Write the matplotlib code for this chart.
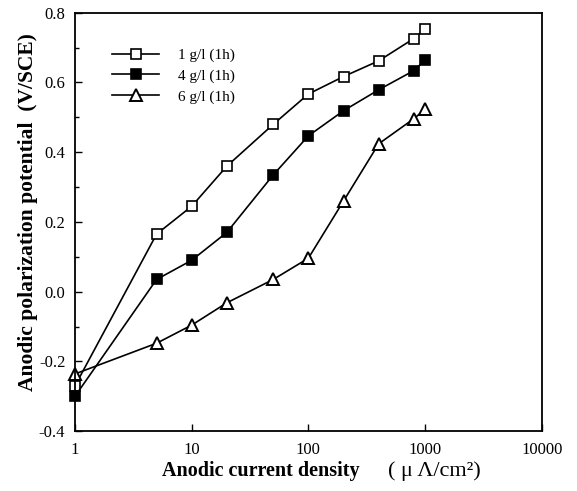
import matplotlib.pyplot as plt
from matplotlib.ticker import FixedLocator, NullLocator, MultipleLocator

plt.rcParams['font.family'] = ['Liberation Serif', 'DejaVu Serif']

# current density (uA/cm2)
current = [1, 5, 10, 20, 50, 100, 200, 400, 800, 1000]

# anodic polarization potential (V/SCE)
pot_1g = [-0.27, 0.165, 0.245, 0.36, 0.48, 0.567, 0.617, 0.662, 0.726, 0.754]
pot_4g = [-0.30, 0.035, 0.09, 0.17, 0.335, 0.447, 0.519, 0.579, 0.634, 0.664]
pot_6g = [-0.236, -0.148, -0.096, -0.032, 0.035, 0.096, 0.26, 0.424, 0.496, 0.523]

labels = ['1 g/l (1h)', '4 g/l (1h)', '6 g/l (1h)']
xticks = [1, 10, 100, 1000, 10000]
xticklabels = ['1', '10', '100', '1000', '10000']

fig = plt.figure(figsize=(5.77, 4.91), dpi=100)
ax = fig.add_axes([0.130, 0.122, 0.809, 0.852])

ax.plot(current, pot_1g, '-s', color='black', mfc='white', mec='black',
        ms=7, mew=1.2, lw=1.2, label=labels[0], clip_on=False)
ax.plot(current, pot_4g, '-s', color='black', mfc='black', mec='black',
        ms=7, mew=1.2, lw=1.2, label=labels[1], clip_on=False)
ax.plot(current, pot_6g, '-^', color='black', mfc='white', mec='black',
        ms=8, mew=1.4, lw=1.2, label=labels[2], clip_on=False)

ax.set_xscale('log')
ax.set_xlim(1, 10000)
ax.set_ylim(-0.4, 0.8)

ax.xaxis.set_major_locator(FixedLocator(xticks))
ax.xaxis.set_minor_locator(NullLocator())
ax.set_xticklabels(xticklabels)
ax.yaxis.set_major_locator(MultipleLocator(0.2))
ax.yaxis.set_minor_locator(MultipleLocator(0.1))
ax.yaxis.set_major_formatter(plt.FuncFormatter(lambda v, p: '%.1f' % v))

ax.tick_params(which='both', direction='in', top=False, right=False,
               labelsize=12, width=1.0)
ax.tick_params(which='major', length=5)
ax.tick_params(which='minor', length=3)
ax.tick_params(axis='x', pad=8)
ax.tick_params(axis='y', pad=7)

for s in ax.spines.values():
    s.set_linewidth(1.3)

ax.legend(loc='upper left', bbox_to_anchor=(0.05, 0.948), frameon=False,
          fontsize=11, handlelength=3.1, labelspacing=0.45, handletextpad=1.2)

fig.text(0.452, 0.040, 'Anodic current density', fontsize=14.5,
         fontweight='bold', ha='center', va='center')
fig.text(0.753, 0.041, '( μ Λ/cm²)', fontsize=16,
         ha='center', va='center')
fig.text(0.048, 0.568, 'Anodic polarization potential  (V/SCE)', fontsize=15.5,
         fontweight='bold', rotation=90, ha='center', va='center')

fig.savefig('out.png', dpi=100)
